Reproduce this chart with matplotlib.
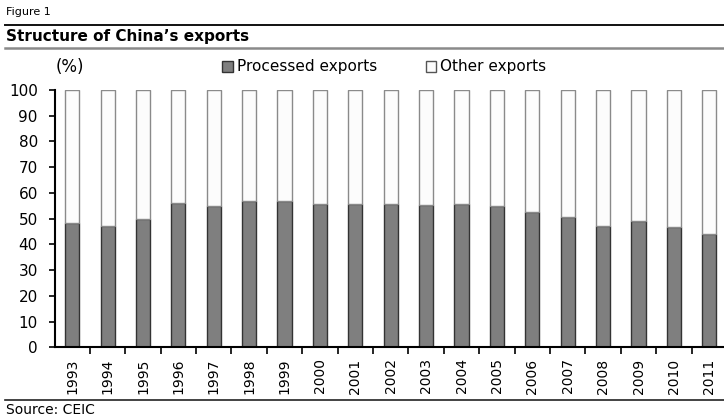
import matplotlib.pyplot as plt
from matplotlib.patches import Patch
import numpy as np

years = [str(y) for y in range(1993, 2012)]
processed = [48.4, 47.2, 49.8, 56.1, 54.8, 56.9, 57.0, 55.5, 55.7, 55.7,
             55.3, 55.7, 55.0, 52.7, 50.6, 47.2, 48.9, 46.9, 44.1]
other = [100 - p for p in processed]

W, H = 724, 418
fig = plt.figure(figsize=(W / 100, H / 100), dpi=100)
plt.rcParams['font.family'] = 'DejaVu Sans'

# plot area in pixel terms, right edge runs past the figure
left, right, top, bottom = 54.5, 727.0, 90.0, 347.3
ax = fig.add_axes([left / W, 1 - bottom / H, (right - left) / W, (bottom - top) / H])

x = np.arange(len(years))
ax.bar(x, processed, width=0.4, color='#7f7f7f', edgecolor='#333333', linewidth=1.0)
ax.bar(x, other, width=0.4, bottom=processed, color='#fcfcfc', edgecolor='#8a8a8a', linewidth=1.0)

ax.set_xlim(-0.5, len(years) - 0.5)
ax.set_ylim(0, 100)
ax.set_yticks(range(0, 101, 10))
ax.tick_params(axis='y', direction='out', length=4, width=1.2, labelsize=11, pad=8)

ax.set_xticks(x)
ax.set_xticklabels(years, rotation=90, fontsize=10)
ax.tick_params(axis='x', which='major', length=0, pad=8)
ax.set_xticks(x[:-1] + 0.5, minor=True)
ax.tick_params(axis='x', which='minor', direction='out', length=5, width=1.2)

for s in ['top', 'right']:
    ax.spines[s].set_visible(False)
for s in ['left', 'bottom']:
    ax.spines[s].set_linewidth(1.5)

handles = [Patch(facecolor='#7f7f7f', edgecolor='#333333'),
           Patch(facecolor='#fcfcfc', edgecolor='#555555')]
fig.legend(handles, ['Processed exports', 'Other exports'], ncol=2, frameon=False,
           loc='center left', bbox_to_anchor=(222 / W, 1 - 67 / H), fontsize=11,
           handlelength=0.7, handleheight=0.7, handletextpad=0.25, columnspacing=3.2,
           borderpad=0, borderaxespad=0)

fig.text(56 / W, 1 - 67 / H, '(%)', fontsize=12, va='center', ha='left')

# header and footer
fig.text(6 / W, 1 - 12 / H, 'Figure 1', fontsize=8, va='center', ha='left')
fig.add_artist(plt.Line2D([5 / W, 1], [1 - 24.5 / H] * 2, color='#111111', lw=1.4))
fig.text(6 / W, 1 - 37 / H, 'Structure of China\u2019s exports', fontsize=11,
         fontweight='bold', va='center', ha='left')
fig.add_artist(plt.Line2D([5 / W, 1], [1 - 47.5 / H] * 2, color='#8a8a8a', lw=1.8))
fig.add_artist(plt.Line2D([5 / W, 1], [1 - 400 / H] * 2, color='#222222', lw=1.2))
fig.text(6 / W, 1 - 410 / H, 'Source: CEIC', fontsize=10, va='center', ha='left')

fig.savefig('out.png', dpi=100)
